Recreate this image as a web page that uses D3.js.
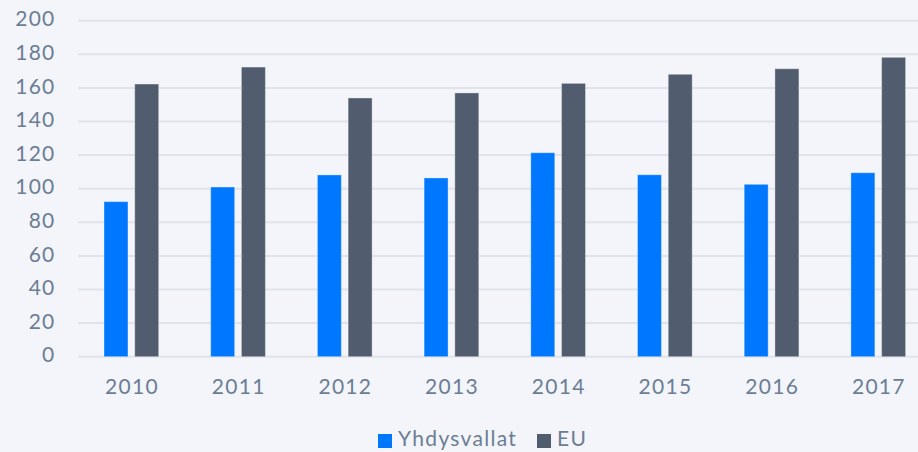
<!DOCTYPE html>
<html>
<head>
<meta charset="utf-8">
<script src="https://cdnjs.cloudflare.com/ajax/libs/d3/7.8.5/d3.min.js"></script>
<style>
  body { margin: 0; background: #f3f5fa; }
  svg { display: block; font-family: Lato, "Open Sans", sans-serif; }
</style>
</head>
<body>
<svg></svg>
<script>
var years = ["2010", "2011", "2012", "2013", "2014", "2015", "2016", "2017"];
var usValues = [92.3, 101, 108.2, 106.4, 121.4, 108.3, 102.6, 109.5];
var euValues = [162.3, 172.4, 154, 157, 162.7, 168.1, 171.4, 178.2];
var seriesNames = ["Yhdysvallat", "EU"];
var yTicks = [0, 20, 40, 60, 80, 100, 120, 140, 160, 180, 200];

var svgWidth = 918;
var svgHeight = 452;
var colors = ["#0077ff", "#515c6f"];
var textColor = "#6b7d95";
var fontSize = 21;
var letterSpacing = 1.3;

var svg = d3.select("svg")
    .attr("width", svgWidth)
    .attr("height", svgHeight);

svg.append("rect")
    .attr("width", svgWidth)
    .attr("height", svgHeight)
    .attr("fill", "#f3f5fa");

var y = d3.scaleLinear()
    .domain([0, 200])
    .range([356.7, 20.7]);

// bands run past the right edge, the last group is cut like in the picture
var x0 = d3.scaleBand()
    .domain(years)
    .range([78, 931.6])
    .paddingInner(0)
    .paddingOuter(0);

var x1 = d3.scaleBand()
    .domain(seriesNames)
    .range([26, x0.bandwidth() - 26])
    .paddingInner(0.22);

// grid lines
svg.append("g")
    .selectAll("line")
    .data(yTicks)
    .join("line")
    .attr("x1", 78)
    .attr("x2", svgWidth)
    .attr("y1", function (d) { return y(d); })
    .attr("y2", function (d) { return y(d); })
    .attr("stroke", "#e0e3ea")
    .attr("stroke-width", 2);

function styleText(sel) {
    sel.attr("fill", textColor)
        .attr("font-size", fontSize)
        .attr("letter-spacing", letterSpacing)
        .attr("font-family", "Lato, 'Open Sans', sans-serif");
}

// y axis labels
var yAxis = d3.axisLeft(y).tickValues(yTicks).tickSize(0).tickPadding(0);
var yG = svg.append("g")
    .attr("transform", "translate(55.6,0)")
    .call(yAxis);
yG.select(".domain").remove();
yG.selectAll("text").call(styleText).attr("dy", "0.25em");

// bars
var groups = svg.append("g")
    .selectAll("g")
    .data(years)
    .join("g")
    .attr("transform", function (d) { return "translate(" + x0(d) + ",0)"; });

groups.selectAll("rect")
    .data(function (d, i) {
        return [
            { name: seriesNames[0], value: usValues[i] },
            { name: seriesNames[1], value: euValues[i] }
        ];
    })
    .join("rect")
    .attr("x", function (d) { return x1(d.name); })
    .attr("width", x1.bandwidth())
    .attr("y", function (d) { return y(d.value); })
    .attr("height", function (d) { return y(0) - y(d.value); })
    .attr("fill", function (d, i) { return colors[i]; })
    .attr("stroke", "rgba(255,255,255,0.35)")
    .attr("stroke-width", 1);

// x axis labels
var xAxis = d3.axisBottom(x0).tickSize(0).tickPadding(0);
var xG = svg.append("g")
    .attr("transform", "translate(0.6,379.4)")
    .call(xAxis);
xG.select(".domain").remove();
xG.selectAll("text").call(styleText);

// legend
var legendX = [378, 537];
var legend = svg.append("g")
    .selectAll("g")
    .data(seriesNames)
    .join("g")
    .attr("transform", function (d, i) { return "translate(" + legendX[i] + ",434)"; });

legend.append("rect")
    .attr("width", 14)
    .attr("height", 14)
    .attr("fill", function (d, i) { return colors[i]; });

legend.append("text")
    .attr("x", 20)
    .attr("y", 11.7)
    .call(styleText)
    .text(function (d) { return d; });
</script>
</body>
</html>
